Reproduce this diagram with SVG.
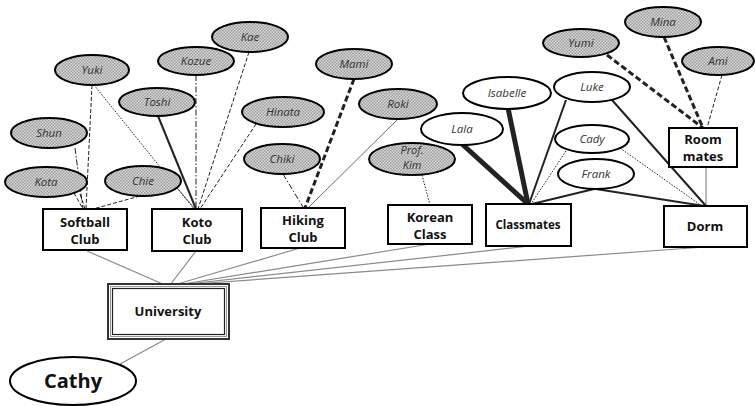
<svg xmlns="http://www.w3.org/2000/svg" width="755" height="406" viewBox="0 0 755 406">
<style>
.g{fill:url(#hatch);stroke:#000;stroke-width:2}
.w{fill:#fff;stroke:#000;stroke-width:2}
.box{fill:#fff;stroke:#000;stroke-width:2}
.el{font-family:"Open Sans","Liberation Sans",sans-serif;font-style:italic;font-size:11.5px;fill:#333;text-anchor:middle}
.bl{font-family:"Open Sans","Liberation Sans",sans-serif;font-weight:bold;font-size:13px;fill:#111;text-anchor:middle}
.c{fill:none;stroke:#222}
.u{fill:none;stroke:#8a8a8a;stroke-width:1.2}
.dash{stroke-dasharray:4 2;stroke-width:1}
.dd{stroke-dasharray:6 2 1.5 2;stroke-width:1}
.dot{stroke-dasharray:1.5 1.5;stroke-width:1}
.thin{stroke-width:0.8;stroke:#444}
.s2{stroke-width:2}
.s5{stroke-width:5}
.td{stroke-width:3;stroke-dasharray:6 3}
</style>
<defs>
<pattern id="hatch" width="3" height="3" patternUnits="userSpaceOnUse">
<rect width="3" height="3" fill="#dadada"/>
<rect width="1.5" height="1.5" fill="#9c9c9c"/>
<rect x="1.5" y="1.5" width="1.5" height="1.5" fill="#9c9c9c"/>
</pattern>
</defs>
<g id="connectors">
<line class="u" x1="87" y1="251" x2="165" y2="285"/>
<line class="u" x1="196" y1="251" x2="170" y2="285"/>
<line class="u" x1="300" y1="248" x2="174" y2="285"/>
<line class="u" x1="430" y1="244" x2="177" y2="285"/>
<line class="u" x1="530" y1="246" x2="179" y2="285"/>
<line class="u" x1="705" y1="247" x2="181" y2="285"/>
<line class="u" x1="166" y1="339" x2="120" y2="364"/>
<line class="u" x1="706" y1="167" x2="706" y2="206"/>
<line class="c dash" x1="92" y1="85" x2="86" y2="209"/>
<line class="c dot" x1="94" y1="85" x2="194" y2="209"/>
<line class="c dd" x1="75" y1="148" x2="83" y2="209"/>
<line class="c dash" x1="74" y1="193" x2="83" y2="209"/>
<line class="c dash" x1="80" y1="194" x2="85" y2="209"/>
<line class="c dash" x1="140" y1="196" x2="93" y2="209"/>
<line class="c thin" x1="178" y1="189" x2="195" y2="209"/>
<line class="c s2" x1="158" y1="116" x2="196" y2="209"/>
<line class="c dd" x1="196" y1="75" x2="196" y2="209"/>
<line class="c dash" x1="249" y1="52" x2="198" y2="209"/>
<line class="c dash" x1="256" y1="124" x2="200" y2="209"/>
<line class="c dd" x1="283" y1="174" x2="303" y2="207"/>
<line class="c td" x1="354" y1="79" x2="305" y2="208"/>
<line class="c thin" x1="398" y1="119" x2="308" y2="208"/>
<line class="c dot" x1="422" y1="175" x2="430" y2="205"/>
<line class="c s5" x1="462" y1="144" x2="528" y2="204"/>
<line class="c s5" x1="508" y1="108" x2="528" y2="204"/>
<line class="c s2" x1="566" y1="100" x2="529" y2="204"/>
<line class="c dot" x1="566" y1="151" x2="531" y2="204"/>
<line class="c s2" x1="594" y1="189" x2="532" y2="204"/>
<line class="c s2" x1="612" y1="100" x2="706" y2="206"/>
<line class="c dot" x1="620" y1="148" x2="702" y2="206"/>
<line class="c s2" x1="596" y1="189" x2="704" y2="206"/>
<line class="c td" x1="607" y1="55" x2="703" y2="128"/>
<line class="c td" x1="664" y1="37" x2="703" y2="128"/>
<line class="c dash" x1="722" y1="75" x2="707" y2="128"/>
</g>
<g id="yuki"><ellipse class="g" cx="92" cy="70" rx="37" ry="15"/><text class="el" x="92" y="74">Yuki</text></g>
<g id="kozue"><ellipse class="g" cx="196" cy="61" rx="38" ry="14"/><text class="el" x="196" y="65">Kozue</text></g>
<g id="kae"><ellipse class="g" cx="250" cy="37" rx="38" ry="15"/><text class="el" x="250" y="41">Kae</text></g>
<g id="toshi"><ellipse class="g" cx="157" cy="102" rx="38" ry="14"/><text class="el" x="157" y="106">Toshi</text></g>
<g id="shun"><ellipse class="g" cx="49" cy="133" rx="38" ry="15"/><text class="el" x="49" y="137">Shun</text></g>
<g id="kota"><ellipse class="g" cx="46" cy="182" rx="41" ry="15"/><text class="el" x="46" y="186">Kota</text></g>
<g id="chie"><ellipse class="g" cx="143" cy="181" rx="38" ry="15"/><text class="el" x="143" y="185">Chie</text></g>
<g id="hinata"><ellipse class="g" cx="283" cy="112" rx="41" ry="15"/><text class="el" x="283" y="116">Hinata</text></g>
<g id="chiki"><ellipse class="g" cx="282" cy="159" rx="38" ry="15"/><text class="el" x="282" y="163">Chiki</text></g>
<g id="mami"><ellipse class="g" cx="354" cy="64" rx="38" ry="15"/><text class="el" x="354" y="68">Mami</text></g>
<g id="roki"><ellipse class="g" cx="398" cy="104" rx="39" ry="15"/><text class="el" x="398" y="108">Roki</text></g>
<g id="profkim"><ellipse class="g" cx="412" cy="159" rx="43" ry="16"/><text class="el" x="412" y="154" style="font-size:11px">Prof.</text><text class="el" x="412" y="169" style="font-size:11px">Kim</text></g>
<g id="yumi"><ellipse class="g" cx="581" cy="43" rx="38" ry="14"/><text class="el" x="581" y="47">Yumi</text></g>
<g id="mina"><ellipse class="g" cx="663" cy="22" rx="38" ry="15"/><text class="el" x="663" y="26">Mina</text></g>
<g id="ami"><ellipse class="g" cx="718" cy="61" rx="36" ry="14"/><text class="el" x="718" y="65">Ami</text></g>
<g id="lala"><ellipse class="w" cx="462" cy="129" rx="41" ry="16"/><text class="el" x="462" y="133">Lala</text></g>
<g id="isabelle"><ellipse class="w" cx="507" cy="93" rx="44" ry="16"/><text class="el" x="507" y="97">Isabelle</text></g>
<g id="luke"><ellipse class="w" cx="592" cy="87" rx="38" ry="15"/><text class="el" x="592" y="91">Luke</text></g>
<g id="cady"><ellipse class="w" cx="592" cy="139" rx="37" ry="14"/><text class="el" x="592" y="143">Cady</text></g>
<g id="frank"><ellipse class="w" cx="596" cy="174" rx="38" ry="15"/><text class="el" x="596" y="178">Frank</text></g>
<g id="softball"><rect class="box" x="43" y="209" width="84" height="41"/><text class="bl" x="85" y="227">Softball</text><text class="bl" x="85" y="244">Club</text></g>
<g id="koto"><rect class="box" x="152" y="209" width="90" height="42"/><text class="bl" x="197" y="227">Koto</text><text class="bl" x="197" y="244">Club</text></g>
<g id="hiking"><rect class="box" x="261" y="208" width="84" height="40"/><text class="bl" x="303" y="225">Hiking</text><text class="bl" x="303" y="242">Club</text></g>
<g id="korean"><rect class="box" x="388" y="205" width="84" height="39"/><text class="bl" x="430" y="222">Korean</text><text class="bl" x="430" y="239">Class</text></g>
<g id="classmates"><rect class="box" x="486" y="204" width="85" height="42"/><text class="bl" x="528" y="229" style="font-size:11.5px">Classmates</text></g>
<g id="dorm"><rect class="box" x="664" y="206" width="83" height="41"/><text class="bl" x="705" y="231">Dorm</text></g>
<g id="roommates"><rect class="box" x="669" y="128" width="68" height="39"/><text class="bl" x="703" y="144">Room</text><text class="bl" x="703" y="161">mates</text></g>
<g id="university"><rect x="108" y="284" width="121" height="55" fill="#fff" stroke="#333" stroke-width="2"/><rect x="110.5" y="286.5" width="116" height="50" fill="none" stroke="#999" stroke-width="1"/><rect x="112.5" y="288.5" width="112" height="46" fill="#fff" stroke="#222" stroke-width="1.2"/><text class="bl" x="168" y="316">University</text></g>
<g id="cathy"><ellipse class="w" cx="73" cy="381" rx="63" ry="24"/><text class="bl" x="73" y="388" style="font-size:20px">Cathy</text></g>
</svg>
